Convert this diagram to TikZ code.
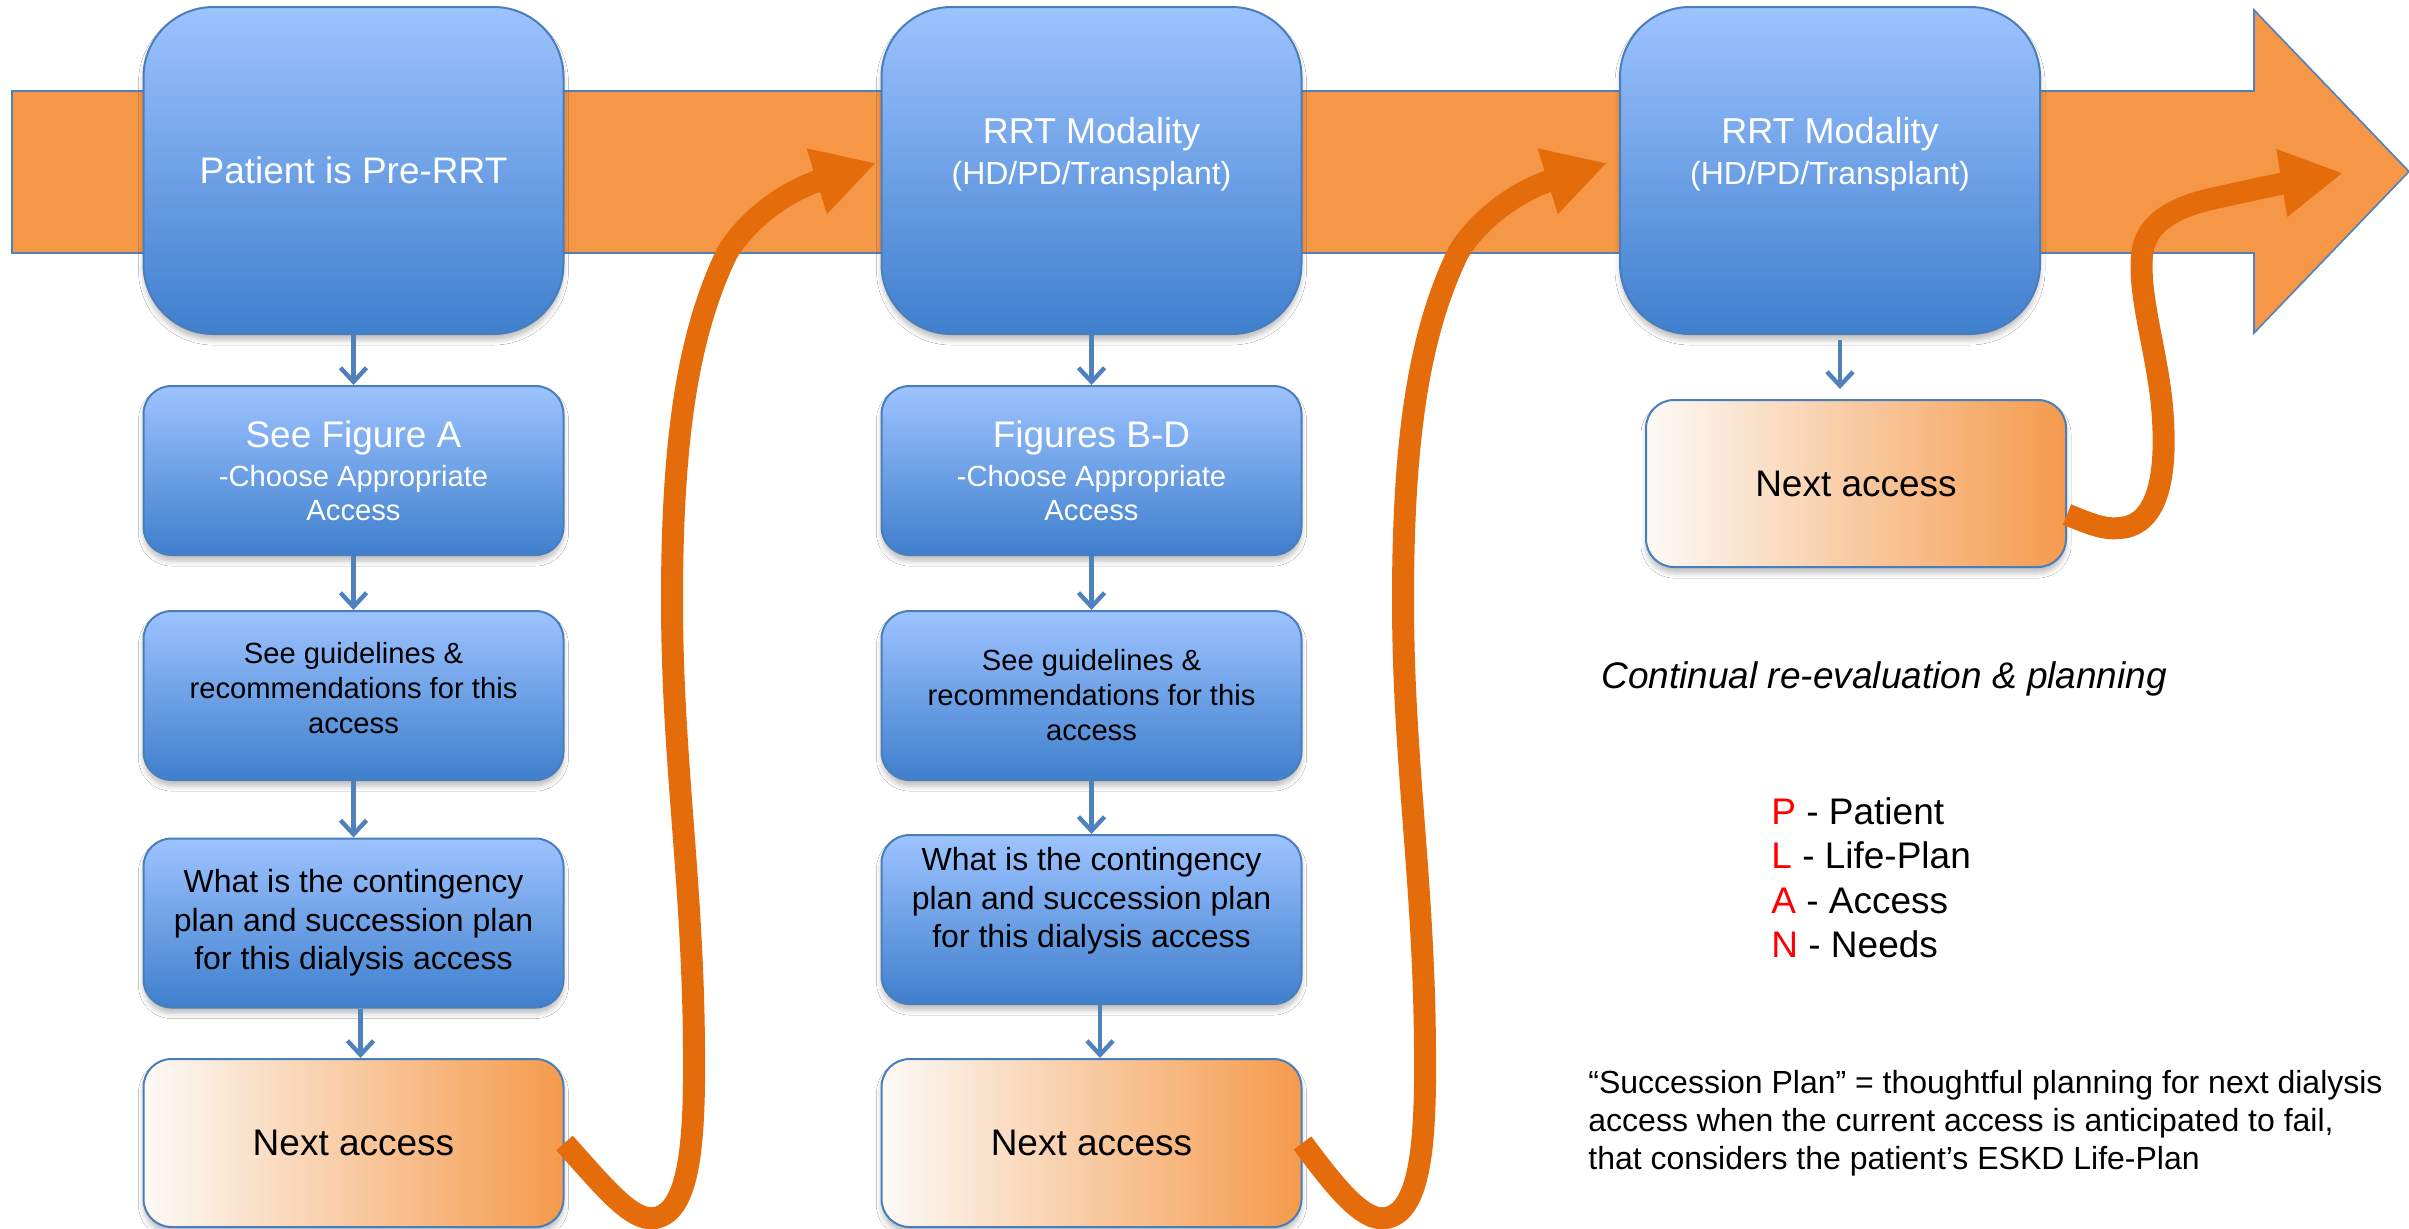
\documentclass[tikz,border=0pt]{standalone}
\usepackage{fontspec}
\setmainfont{Liberation Sans}
\usetikzlibrary{arrows.meta,shadows.blur}

\definecolor{bluetop}{HTML}{9DC3FF}
\definecolor{bluebot}{HTML}{3F7FCD}
\definecolor{boxline}{HTML}{4A7EBB}
\definecolor{flowblue}{HTML}{4F81BD}
\definecolor{peachl}{HTML}{FCFAF7}
\definecolor{peachr}{HTML}{F59A4C}
\definecolor{bandorange}{HTML}{F69647}
\definecolor{looporange}{HTML}{E46C0A}
\definecolor{planred}{HTML}{FF0000}

\tikzset{
  softshadow/.style={blur shadow={shadow xshift=0pt,shadow yshift=-3pt,
      shadow blur radius=2.5pt,shadow opacity=25}},
  bluebox/.style={draw=boxline, line width=1pt, rounded corners=14pt,
      top color=bluetop, bottom color=bluebot, inner sep=0pt,
      minimum width=210pt, minimum height=84.5pt, align=center, softshadow},
  bigbox/.style={bluebox, rounded corners=35pt, minimum height=163.5pt},
  nextbox/.style={draw=boxline, line width=1pt, rounded corners=14pt,
      left color=peachl, right color=peachr, inner sep=0pt,
      minimum width=210pt, minimum height=84pt, align=center, softshadow,
      font=\fontsize{18.5}{22}\selectfont},
  boxtext/.style={inner sep=0pt, align=center},
  titletext/.style={text=white, font=\fontsize{18.5}{22}\selectfont},
  guidetext/.style={font=\fontsize{14.6}{17.5}\selectfont},
  plantext/.style={font=\fontsize{16}{19.25}\selectfont},
  legend/.style={inner sep=0pt, anchor=base west, font=\fontsize{18.5}{22}\selectfont},
  flowarrow/.style={draw=flowblue, line width=2.2pt,
      -{Straight Barb[length=7pt,width=13pt]}},
  backarrow/.style={draw=looporange, line width=11pt,
      -{Triangle[length=31pt,width=32pt]}},
}

\begin{document}
\begin{tikzpicture}[x=0.5pt,y=-0.5pt]
\fill[white] (0,0) rectangle (2409,1228);
\useasboundingbox (0,0) rectangle (2409,1228);

% timeline band
\filldraw[fill=bandorange, draw=flowblue, line width=0.8pt]
  (12,91) -- (2254,91) -- (2254,10) -- (2409,171.5) -- (2254,333)
  -- (2254,253) -- (12,253) -- cycle;

% column 1
\node[bigbox, titletext] (p1) at (353.5,170.5) {Patient is Pre-RRT};
\node[bluebox, titletext, font=\fontsize{14.6}{17}\selectfont] (fa) at (353.5,470.5)
  {{\fontsize{18.5}{22}\selectfont See Figure A}\\[2.5pt]-Choose Appropriate\\Access};
\node[bluebox] (g1) at (353.5,695.5) {};
\node[boxtext, guidetext] (g1t) at (353.5,688)
  {See guidelines \&\\recommendations for this\\access};
\node[bluebox, plantext] (c1) at (353.5,923)
  {What is the contingency\\plan and succession plan\\for this dialysis access};
\node[nextbox] (na1) at (353.5,1143) {Next access};

% column 2
\node[bigbox] (p2) at (1091.5,170.5) {};
\node[boxtext, text=white, font=\fontsize{16}{20.5}\selectfont] (p2t) at (1091.5,154)
  {{\fontsize{18}{20.5}\selectfont RRT Modality}\\(HD/PD/Transplant)};
\node[bluebox, titletext, font=\fontsize{14.6}{17}\selectfont] (fb) at (1091.5,470.5)
  {{\fontsize{18.5}{22}\selectfont Figures B-D}\\[2.5pt]-Choose Appropriate\\Access};
\node[bluebox, guidetext] (g2) at (1091.5,695.5)
  {See guidelines \&\\recommendations for this\\access};
\node[bluebox] (c2) at (1091.5,919.5) {};
\node[boxtext, plantext] (c2t) at (1091.5,901)
  {What is the contingency\\plan and succession plan\\for this dialysis access};
\node[nextbox] (na2) at (1091.5,1143) {Next access};

% column 3
\node[bigbox] (p3) at (1830,170.5) {};
\node[boxtext, text=white, font=\fontsize{16}{20.5}\selectfont] (p3t) at (1830,154)
  {{\fontsize{18}{20.5}\selectfont RRT Modality}\\(HD/PD/Transplant)};
\node[nextbox, minimum height=83.5pt] (na3) at (1856,483.5) {Next access};

% downward steps
\draw[flowarrow] (p1.south) -- (fa.north);
\draw[flowarrow] (fa.south) -- (g1.north);
\draw[flowarrow] (g1.south) -- (c1.north);
\draw[flowarrow] ([xshift=3.5pt]c1.south) -- ([xshift=3.5pt]na1.north);
\draw[flowarrow] (p2.south) -- (fb.north);
\draw[flowarrow] (fb.south) -- (g2.north);
\draw[flowarrow] (g2.south) -- (c2.north);
\draw[flowarrow] ([xshift=4.25pt]c2.south) -- ([xshift=4.25pt]na2.north);
\draw[flowarrow] ([xshift=5pt,yshift=-2.5pt]p3.south) -- ([xshift=-8pt,yshift=5pt]na3.north);

% right-hand notes
\node[legend, font=\fontsize{18.5}{22}\selectfont\itshape] (cont) at (1601,688)
  {Continual re-evaluation \& planning};
\node[legend] (plP) at (1771,824) {\textcolor{planred}{P} - Patient};
\node[legend] (plL) at (1771,868.5) {\textcolor{planred}{L} - Life-Plan};
\node[legend] (plA) at (1771,913) {\textcolor{planred}{A} - Access};
\node[legend] (plN) at (1771,957.5) {\textcolor{planred}{N} - Needs};
\node[legend, font=\fontsize{16}{19}\selectfont] (succ) at (1588,1093)
  {\begin{tabular}[t]{@{}l@{}}
   “Succession Plan” = thoughtful planning for next dialysis\\
   access when the current access is anticipated to fail,\\
   that considers the patient’s ESKD Life-Plan
   \end{tabular}};

% loops back onto the timeline
\coordinate (tip1) at (876,163);
\coordinate (tip2) at (1607,163);
\coordinate (tip3) at (2343,173);

\draw[backarrow] (na1.east) .. controls (605,1188) and (632,1222) .. (655,1218)
  .. controls (688,1212) and (695,1150) .. (694,1050)
  .. controls (693,880) and (672,760) .. (672,600)
  .. controls (672,430) and (690,330) .. (727,253)
  .. controls (752,212) and (795,188) .. (tip1);

\draw[backarrow] (na2.east) .. controls (1336,1188) and (1363,1222) .. (1386,1218)
  .. controls (1419,1212) and (1426,1150) .. (1425,1050)
  .. controls (1424,880) and (1403,760) .. (1403,600)
  .. controls (1403,430) and (1421,330) .. (1458,253)
  .. controls (1483,212) and (1526,188) .. (tip2);

\draw[backarrow] ([yshift=-15.5pt]na3.east) .. controls (2090,524) and (2105,530) .. (2120,528)
  .. controls (2160,525) and (2166,470) .. (2163,420)
  .. controls (2160,360) and (2138,300) .. (2142,255)
  .. controls (2145,220) and (2180,205) .. (2220,197)
  .. controls (2260,188) and (2300,180) .. (tip3);
\end{tikzpicture}
\end{document}
